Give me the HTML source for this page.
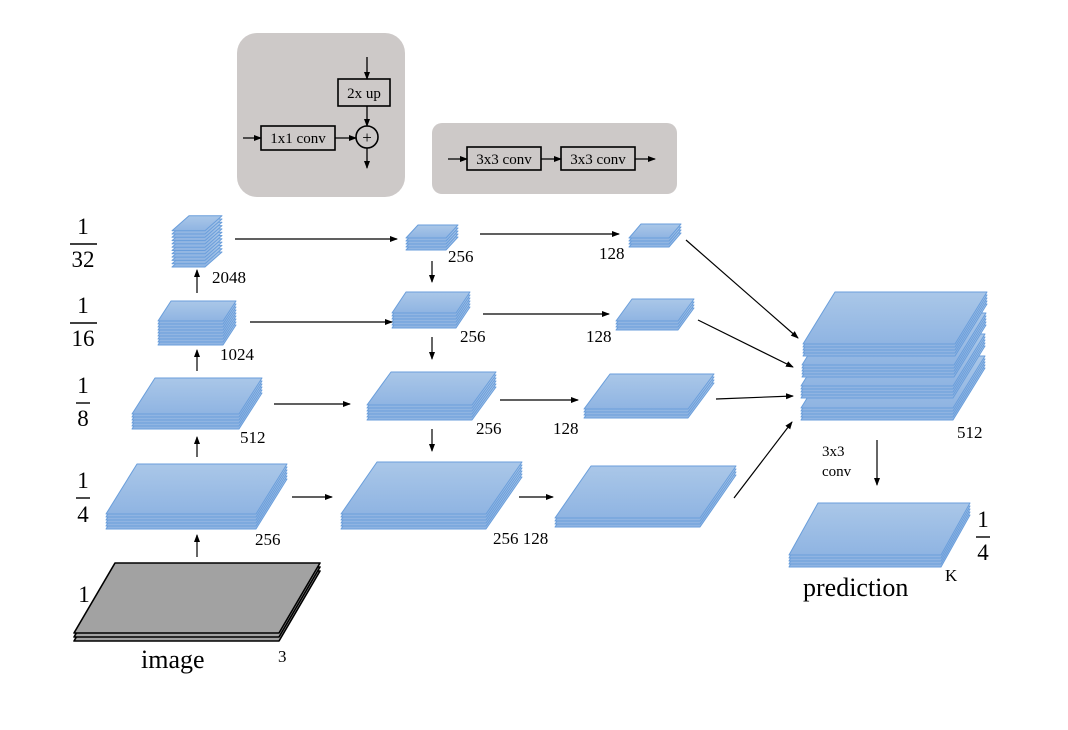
<!DOCTYPE html>
<html><head><meta charset="utf-8"><style>
html,body{margin:0;padding:0;background:#fff;}
svg{display:block;font-family:"Liberation Serif",serif;}
</style></head><body>
<svg id="s" width="1068" height="730" viewBox="0 0 1068 730" xmlns="http://www.w3.org/2000/svg">
<defs>
<linearGradient id="g" x1="0" y1="0" x2="0" y2="1"><stop offset="0" stop-color="#aac7e8"/><stop offset="1" stop-color="#8fb4e2"/></linearGradient>
<marker id="a" markerWidth="8" markerHeight="8" refX="7" refY="4" orient="auto" markerUnits="userSpaceOnUse"><path d="M0,1 L8,4 L0,7 Z" fill="#000"/></marker>
</defs>
<rect x="237" y="33" width="168" height="164" rx="20" fill="#cdc9c8"/>
<rect x="432" y="123" width="245" height="71" rx="10" fill="#cdc9c8"/>
<g stroke="#000" stroke-width="1.3" fill="none">
<line x1="367" y1="57" x2="367" y2="79" marker-end="url(#a)"/>
<rect x="338" y="79" width="52" height="27" stroke-width="1.6"/>
<line x1="367" y1="106" x2="367" y2="126" marker-end="url(#a)"/>
<circle cx="367" cy="137" r="11" stroke-width="1.6"/>
<line x1="367" y1="148" x2="367" y2="168" marker-end="url(#a)"/>
<line x1="243" y1="138" x2="261" y2="138" marker-end="url(#a)"/>
<rect x="261" y="126" width="74" height="24" stroke-width="1.6"/>
<line x1="335" y1="138" x2="356" y2="138" marker-end="url(#a)"/>
<line x1="448" y1="159" x2="467" y2="159" marker-end="url(#a)"/>
<rect x="467" y="147" width="74" height="23" stroke-width="1.6"/>
<line x1="541" y1="159" x2="561" y2="159" marker-end="url(#a)"/>
<rect x="561" y="147" width="74" height="23" stroke-width="1.6"/>
<line x1="635" y1="159" x2="655" y2="159" marker-end="url(#a)"/>
</g>
<g font-size="15" fill="#000">
<text x="364" y="98" text-anchor="middle">2x up</text>
<text x="298" y="143" text-anchor="middle">1x1 conv</text>
<text x="367" y="143" text-anchor="middle" font-size="17">+</text>
<text x="504" y="164" text-anchor="middle">3x3 conv</text>
<text x="598" y="164" text-anchor="middle">3x3 conv</text>
</g>
<g id="stacks"></g>
<g stroke="#000" stroke-width="1.2" fill="none">
<line x1="235" y1="239" x2="397" y2="239" marker-end="url(#a)"/>
<line x1="480" y1="234" x2="619" y2="234" marker-end="url(#a)"/>
<line x1="686" y1="240" x2="798" y2="338" marker-end="url(#a)"/>
<line x1="432" y1="261" x2="432" y2="282" marker-end="url(#a)"/>
<line x1="250" y1="322" x2="392" y2="322" marker-end="url(#a)"/>
<line x1="483" y1="314" x2="609" y2="314" marker-end="url(#a)"/>
<line x1="698" y1="320" x2="793" y2="367" marker-end="url(#a)"/>
<line x1="432" y1="337" x2="432" y2="359" marker-end="url(#a)"/>
<line x1="274" y1="404" x2="350" y2="404" marker-end="url(#a)"/>
<line x1="500" y1="400" x2="578" y2="400" marker-end="url(#a)"/>
<line x1="716" y1="399" x2="793" y2="396" marker-end="url(#a)"/>
<line x1="432" y1="429" x2="432" y2="451" marker-end="url(#a)"/>
<line x1="292" y1="497" x2="332" y2="497" marker-end="url(#a)"/>
<line x1="519" y1="497" x2="553" y2="497" marker-end="url(#a)"/>
<line x1="734" y1="498" x2="792" y2="422" marker-end="url(#a)"/>
<line x1="197" y1="293" x2="197" y2="270" marker-end="url(#a)"/>
<line x1="197" y1="371" x2="197" y2="350" marker-end="url(#a)"/>
<line x1="197" y1="457" x2="197" y2="437" marker-end="url(#a)"/>
<line x1="197" y1="557" x2="197" y2="535" marker-end="url(#a)"/>
<line x1="877" y1="440" x2="877" y2="485" marker-end="url(#a)"/>
</g>
<g font-size="17" fill="#000">
<text x="212" y="283">2048</text>
<text x="220" y="360">1024</text>
<text x="240" y="443">512</text>
<text x="255" y="545">256</text>
<text x="278" y="662">3</text>
<text x="448" y="262">256</text>
<text x="599" y="259">128</text>
<text x="460" y="342">256</text>
<text x="586" y="342">128</text>
<text x="476" y="434">256</text>
<text x="553" y="434">128</text>
<text x="493" y="544">256 128</text>
<text x="957" y="438">512</text>
<text x="822" y="456" font-size="15">3x3</text>
<text x="822" y="476" font-size="15">conv</text>
<text x="945" y="581">K</text>
</g>
<text x="141" y="668" font-size="26">image</text>
<text x="803" y="596" font-size="26">prediction</text>
<g font-size="23" fill="#000" text-anchor="middle">
<text x="83" y="234">1</text><line x1="70" y1="244" x2="97" y2="244" stroke="#000" stroke-width="1.4"/><text x="83" y="267">32</text>
<text x="83" y="313">1</text><line x1="70" y1="323" x2="97" y2="323" stroke="#000" stroke-width="1.4"/><text x="83" y="346">16</text>
<text x="83" y="393">1</text><line x1="76" y1="403" x2="90" y2="403" stroke="#000" stroke-width="1.4"/><text x="83" y="426">8</text>
<text x="83" y="488">1</text><line x1="76" y1="498" x2="90" y2="498" stroke="#000" stroke-width="1.4"/><text x="83" y="522">4</text>
<text x="983" y="527">1</text><line x1="976" y1="537" x2="990" y2="537" stroke="#000" stroke-width="1.4"/><text x="983" y="560">4</text>
<text x="84" y="602">1</text>
</g>
</svg>
<script>
var G=document.getElementById('stacks'),NS='http://www.w3.org/2000/svg';
function st(x,y,w,dx,dy,n,s,gray){
 for(var i=0;i<n;i++){
  var yy=y-i*s;
  var p=document.createElementNS(NS,'polygon');
  p.setAttribute('points',x+','+yy+' '+(x+w)+','+yy+' '+(x+w+dx)+','+(yy-dy)+' '+(x+dx)+','+(yy-dy));
  p.setAttribute('fill',gray?'#a2a2a2':'url(#g)');
  p.setAttribute('stroke',gray?'#000':'#6a9edb');
  p.setAttribute('stroke-width',gray?'1.6':'1');
  p.setAttribute('stroke-linejoin','round');
  G.appendChild(p);
 }
}
st(74,641,205,41,70,3,4,true);
st(172,267,33,17,15,12,3.3);
st(158,345,65,13,20,9,3);
st(132,429,107,23,36,6,3);
st(106,529,150,31,50,6,3);
st(406,250,40,12,13,5,3);
st(392,328,64,14,21,6,3);
st(367,420,105,24,33,6,3);
st(341,529,145,36,52,6,3);
st(629,247,40,12,14,4,3);
st(616,330,62,16,22,4,3);
st(584,418,104,26,35,4,3);
st(555,527,145,36,52,4,3);
st(801,420,152,32,52,5,3);
st(801,398,152,32,52,5,3);
st(802,377,152,32,52,5,3);
st(803,356,152,32,52,5,3);
st(789,567,152,29,52,5,3);
</script>
</body></html>
